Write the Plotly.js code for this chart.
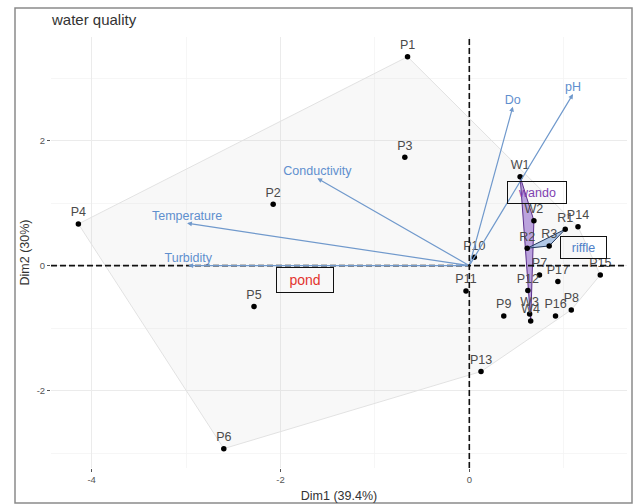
<!DOCTYPE html>
<html>
<head>
<meta charset="utf-8">
<script src="https://cdn.plot.ly/plotly-3.0.1.min.js"></script>
<style>html,body{margin:0;padding:0;background:#fff;}#chart{width:634px;height:504px;}</style>
</head>
<body>
<div id="chart"></div>
<script>
// ---- data ----
const pondNames = ['P1','P2','P3','P4','P5','P6','P7','P8','P9','P10','P11','P12','P13','P14','P15','P16','P17'];
const pondX = [-0.654,-2.077,-0.683,-4.14,-2.28,-2.60,0.743,1.080,0.365,0.053,-0.035,0.620,0.124,1.151,1.387,0.913,0.938];
const pondY = [3.344,0.982,1.734,0.667,-0.656,-2.93,-0.149,-0.709,-0.805,0.134,-0.405,-0.400,-1.696,0.624,-0.149,-0.805,-0.256];

const wandoNames = ['W1','W2','W3','W4'];
const wandoX = [0.538,0.684,0.639,0.650];
const wandoY = [1.424,0.720,-0.773,-0.885];

const riffleNames = ['R1','R2','R3'];
const riffleX = [1.016,0.613,0.846];
const riffleY = [0.582,0.278,0.315];

const varNames = ['Do','pH','Conductivity','Temperature','Turbidity'];
const varX = [0.461,1.098,-1.609,-2.989,-2.976];
const varY = [2.544,2.747,1.398,0.678,0.0];

const groupNames = ['pond','wando','riffle'];
const groupLabelX = [-1.742,0.716,1.204];
const groupLabelY = [-0.234,1.168,0.283];

const xTicks = [-4,-2,0];
const yTicks = [-2,0,2];

// ---- helpers ----
function hull(xs, ys){
  const pts = xs.map((x,i)=>[x,ys[i]]).sort((a,b)=>a[0]-b[0]||a[1]-b[1]);
  const cross=(o,a,b)=>(a[0]-o[0])*(b[1]-o[1])-(a[1]-o[1])*(b[0]-o[0]);
  const lower=[],upper=[];
  for(const p of pts){while(lower.length>=2&&cross(lower[lower.length-2],lower[lower.length-1],p)<=0)lower.pop();lower.push(p);}
  for(let i=pts.length-1;i>=0;i--){const p=pts[i];while(upper.length>=2&&cross(upper[upper.length-2],upper[upper.length-1],p)<=0)upper.pop();upper.push(p);}
  upper.pop();lower.pop();
  const h=lower.concat(upper); h.push(h[0]);
  return {x:h.map(p=>p[0]), y:h.map(p=>p[1])};
}

const FONT = 'Liberation Sans, Arial, sans-serif';
const hp = hull(pondX, pondY), hw = hull(wandoX, wandoY), hr = hull(riffleX, riffleY);

const traces = [
  {x:hp.x, y:hp.y, mode:'lines', fill:'toself', fillcolor:'rgba(200,200,200,0.13)', line:{color:'#e2e2e2', width:1}, hoverinfo:'skip', showlegend:false},
  {x:hw.x, y:hw.y, mode:'lines', fill:'toself', fillcolor:'rgba(150,112,205,0.62)', line:{color:'#5b2f8c', width:1}, hoverinfo:'skip', showlegend:false},
  {x:hr.x, y:hr.y, mode:'lines', fill:'toself', fillcolor:'rgba(130,168,220,0.6)', line:{color:'#23395d', width:1}, hoverinfo:'skip', showlegend:false},
  {x:pondX.concat(wandoX, riffleX), y:pondY.concat(wandoY, riffleY), text:pondNames.concat(wandoNames, riffleNames),
   mode:'markers+text', textposition:'top center', marker:{color:'#000', size:5.5},
   textfont:{family:FONT, size:12.5, color:'#4a4a4a'}, showlegend:false, hoverinfo:'text'},
  {x:varX, y:varY, text:varNames, mode:'text', textposition:'top center',
   textfont:{family:FONT, size:12.5, color:'#5f8fce'}, showlegend:false, hoverinfo:'text'}
];

const annotations = varNames.map((n,i)=>({
  x:varX[i], y:varY[i], ax:0, ay:0, xref:'x', yref:'y', axref:'x', ayref:'y',
  text:'', showarrow:true, arrowhead:2, arrowsize:0.8, arrowwidth:1.2, arrowcolor:'#7099cc', standoff:0, startstandoff:0
}));
const groupColors = ['#e3342f','#7e3fb0','#4f7fc8'];
const boxW = [58,60,47], boxH = [26,23,23];
groupNames.forEach((g,i)=>annotations.push({
  x:groupLabelX[i], y:groupLabelY[i], xref:'x', yref:'y', text:g, showarrow:false,
  font:{family:FONT, size:i===0?14:12.5, color:groupColors[i]},
  bordercolor:'#111', borderwidth:1, borderpad:0, bgcolor:'rgba(255,255,255,0)',
  width:boxW[i]-2, height:boxH[i]-2
}));

// plot geometry
const W=634,H=504, L=51, R=7, T=37, B=36;
const pw=W-L-R, ph=H-T-B;
const px2paper = v => (v-L)/pw;
const py2paper = v => (H-B-v)/ph;

const shapes = [
  {type:'line', xref:'x', yref:'paper', x0:0, x1:0, y0:0, y1:1, layer:'above', line:{color:'#111', width:1.6, dash:'6px,3px'}},
  {type:'line', xref:'paper', yref:'y', x0:0, x1:1, y0:0, y1:0, layer:'above', line:{color:'#111', width:1.6, dash:'6px,3px'}},
  {type:'rect', xref:'paper', yref:'paper', x0:px2paper(15), x1:px2paper(632), y0:py2paper(503), y1:py2paper(8), layer:'below', line:{color:'#8a8a8a', width:1.5}, fillcolor:'rgba(0,0,0,0)'}
];

const axisCommon = {
  showgrid:true, gridcolor:'#ebebeb', gridwidth:1, zeroline:false, showline:false,
  ticks:'outside', ticklen:3, tickwidth:1, tickcolor:'#555',
  tickfont:{family:FONT, size:9.5, color:'#555'},
  minor:{dtick:1, showgrid:true, gridcolor:'#f4f4f4', gridwidth:0.8, ticks:''}
};

const layout = {
  width:W, height:H, margin:{l:L, r:R, t:T, b:B, pad:0},
  paper_bgcolor:'#fff', plot_bgcolor:'#fff',
  title:{text:'water quality', x:52/W, xanchor:'left', xref:'container', y:1-20/H, yanchor:'middle', font:{family:FONT, size:15, color:'#333'}},
  xaxis:Object.assign({}, axisCommon, {range:[-4.43,1.67], tickmode:'array', tickvals:xTicks, ticktext:xTicks.map(String),
    minor:Object.assign({}, axisCommon.minor, {tick0:-5}),
    title:{text:'Dim1 (39.4%)', standoff:6, font:{family:FONT, size:12.5, color:'#333'}}}),
  yaxis:Object.assign({}, axisCommon, {range:[-3.24,3.66], tickmode:'array', tickvals:yTicks, ticktext:yTicks.map(String),
    minor:Object.assign({}, axisCommon.minor, {tick0:-5}),
    title:{text:'Dim2 (30%)', standoff:4, font:{family:FONT, size:12.5, color:'#333'}}}),
  shapes:shapes, annotations:annotations, showlegend:false
};

Plotly.newPlot('chart', traces, layout, {displayModeBar:false, staticPlot:true});
</script>
</body>
</html>
